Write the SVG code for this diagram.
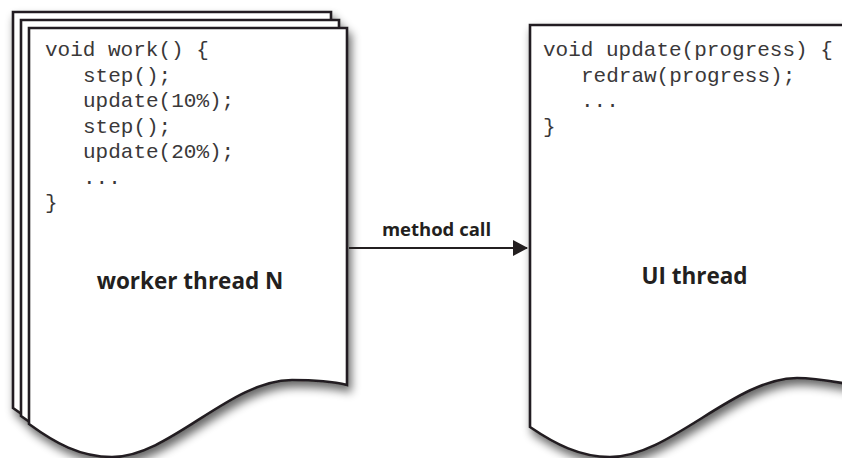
<svg xmlns="http://www.w3.org/2000/svg" width="842" height="458" viewBox="0 0 842 458">
  <style>
    .page { fill: #ffffff; stroke: #231f20; stroke-width: 2.6; stroke-linejoin: miter; }
    .code { font-family: "Liberation Mono", "Courier New", monospace; font-size: 21px; fill: #3a3839; }
    .label { font-family: "Open Sans", "Liberation Sans", sans-serif; font-weight: 700; font-size: 22.5px; fill: #231f20; text-anchor: middle; }
    .edge-label { font-family: "Open Sans", "Liberation Sans", sans-serif; font-weight: 700; font-size: 18.5px; fill: #231f20; text-anchor: middle; }
    .edge { stroke: #231f20; stroke-width: 2; fill: none; }
  </style>
  <defs>
    <filter id="shadow" x="-10%" y="-10%" width="125%" height="125%">
      <feGaussianBlur in="SourceAlpha" stdDeviation="5" result="b"/>
      <feOffset in="b" dx="3" dy="6" result="o"/>
      <feComponentTransfer in="o" result="s">
        <feFuncA type="linear" slope="0.6"/>
      </feComponentTransfer>
      <feMerge>
        <feMergeNode in="s"/>
        <feMergeNode in="SourceGraphic"/>
      </feMerge>
    </filter>
    <path id="leftPage" d="M29,28 L347,28 L347,385 C335,382 315,380 292,380 C230,380 170,457 112,457 C80,457 55,443 29,424 Z"/>
    <marker id="arrow" markerUnits="userSpaceOnUse" markerWidth="16" markerHeight="18" refX="14" refY="8" orient="auto">
      <path d="M0,0 L15,8 L0,16 Z" fill="#231f20"/>
    </marker>
  </defs>

  <g id="worker-thread">
    <g filter="url(#shadow)">
      <use href="#leftPage" class="page" transform="translate(-16,-16)"/>
      <use href="#leftPage" class="page" transform="translate(-8,-8)"/>
      <use href="#leftPage" class="page"/>
    </g>
    <text class="code" x="45" y="56">void work() {</text>
    <text class="code" x="83" y="81.5">step();</text>
    <text class="code" x="83" y="107">update(10%);</text>
    <text class="code" x="83" y="132.5">step();</text>
    <text class="code" x="83" y="158">update(20%);</text>
    <text class="code" x="83" y="183.5">...</text>
    <text class="code" x="45" y="209">}</text>
    <text class="label" x="190" y="289">worker thread N</text>
  </g>

  <g id="ui-thread">
    <path class="page" filter="url(#shadow)" d="M530,25 L848,25 L848,384 C830,381 815,378 797,378 C735,378 670,457 610,457 C580,457 555,444 530,427 Z"/>
    <text class="code" x="543" y="56">void update(progress) {</text>
    <text class="code" x="581" y="81.5">redraw(progress);</text>
    <text class="code" x="581" y="107">...</text>
    <text class="code" x="543" y="132.5">}</text>
    <text class="label" x="694.5" y="284">UI thread</text>
  </g>

  <g id="connectors">
    <line class="edge" x1="349" y1="248" x2="527" y2="248" marker-end="url(#arrow)"/>
    <text class="edge-label" x="436.5" y="236">method call</text>
  </g>
</svg>
